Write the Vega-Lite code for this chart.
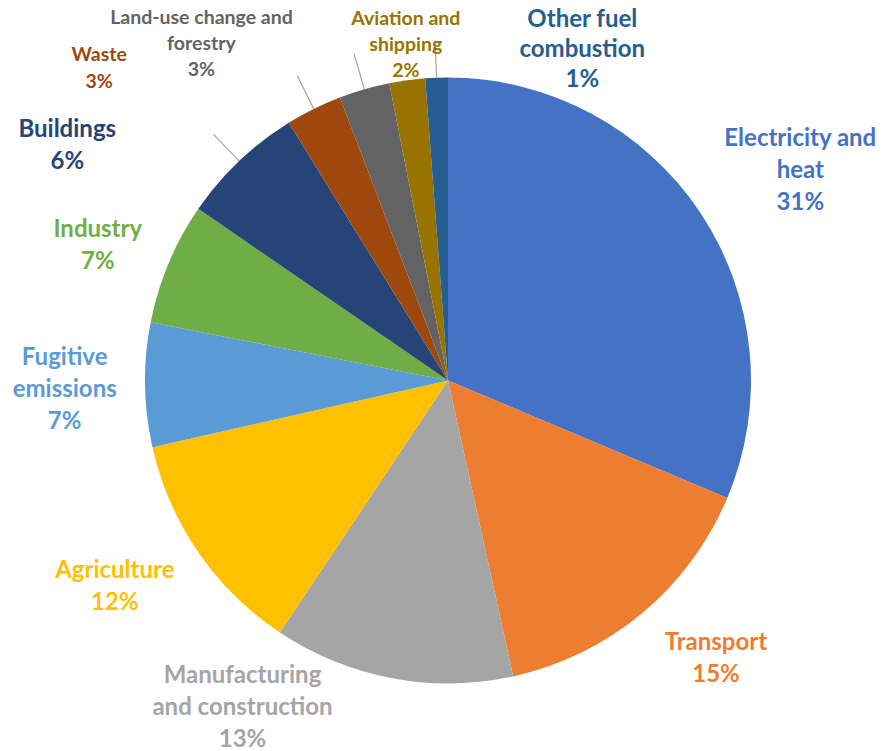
{
  "$schema": "https://vega.github.io/schema/vega-lite/v6.json",
  "autosize": {"type": "none"},
  "width": 868,
  "height": 741,
  "padding": {"left": 14, "top": 10, "right": 0, "bottom": 0},
  "background": "white",
  "config": {
    "view": {"stroke": null},
    "text": {"font": "Lato", "fontWeight": "bold", "fontSize": 24, "lineBreak": "\n", "lineHeight": 32, "align": "center", "baseline": "middle"}
  },
  "data": {
    "values": [
      {"idx": 1, "cat": "Electricity and heat", "value": 31.3, "label": "Electricity and\nheat\n31%"},
      {"idx": 2, "cat": "Transport", "value": 15.2, "label": "Transport\n15%"},
      {"idx": 3, "cat": "Manufacturing and construction", "value": 12.8, "label": "Manufacturing\nand construction\n13%"},
      {"idx": 4, "cat": "Agriculture", "value": 12.1, "label": "Agriculture\n12%"},
      {"idx": 5, "cat": "Fugitive emissions", "value": 6.6, "label": "Fugitive\nemissions\n7%"},
      {"idx": 6, "cat": "Industry", "value": 6.5, "label": "Industry\n7%"},
      {"idx": 7, "cat": "Buildings", "value": 6.6, "label": "Buildings\n6%"},
      {"idx": 8, "cat": "Waste", "value": 3.0, "label": "Waste\n3%"},
      {"idx": 9, "cat": "Land-use change and forestry", "value": 2.7, "label": "Land-use change and\nforestry\n3%"},
      {"idx": 10, "cat": "Aviation and shipping", "value": 1.9, "label": "Aviation and\nshipping\n2%"},
      {"idx": 11, "cat": "Other fuel combustion", "value": 1.2, "label": "Other fuel\ncombustion\n1%"}
    ]
  },
  "encoding": {
    "theta": {"field": "value", "type": "quantitative", "stack": true},
    "order": {"field": "idx", "type": "quantitative"},
    "color": {
      "field": "cat",
      "type": "nominal",
      "legend": null,
      "scale": {
        "domain": ["Electricity and heat", "Transport", "Manufacturing and construction", "Agriculture", "Fugitive emissions", "Industry", "Buildings", "Waste", "Land-use change and forestry", "Aviation and shipping", "Other fuel combustion"],
        "range": ["#4472C4", "#ED7D31", "#A5A5A5", "#FFC000", "#5B9BD5", "#70AD47", "#264478", "#9E480E", "#636363", "#997300", "#255E91"]
      }
    }
  },
  "layer": [
    {"mark": {"type": "arc", "radius": 303}},
    {
      "mark": {"type": "arc", "radius": 340, "radius2": 303, "padAngle": 1, "strokeWidth": 1.2},
      "encoding": {
        "color": {"value": "transparent"},
        "stroke": {"condition": {"test": "indexof(['Buildings','Waste','Land-use change and forestry','Other fuel combustion'], datum.cat) >= 0", "value": "#A6A6A6"}, "value": "transparent"}
      }
    },
    {"mark": {"type": "text", "radius": 427, "thetaOffset": -0.014}, "encoding": {"text": {"condition": {"test": "datum.cat === 'Electricity and heat'", "field": "label"}, "value": ""}}},
    {"mark": {"type": "text", "radius": 375, "thetaOffset": -0.101}, "encoding": {"text": {"condition": {"test": "datum.cat === 'Transport'", "field": "label"}, "value": ""}}},
    {"mark": {"type": "text", "radius": 360, "thetaOffset": 0.422}, "encoding": {"text": {"condition": {"test": "datum.cat === 'Manufacturing and construction'", "field": "label"}, "value": ""}}},
    {"mark": {"type": "text", "radius": 384, "thetaOffset": 0.082}, "encoding": {"text": {"condition": {"test": "datum.cat === 'Agriculture'", "field": "label"}, "value": ""}}},
    {"mark": {"type": "text", "radius": 384, "thetaOffset": 0.073}, "encoding": {"text": {"condition": {"test": "datum.cat === 'Fugitive emissions'", "field": "label"}, "value": ""}}},
    {"mark": {"type": "text", "radius": 381, "thetaOffset": 0.007}, "encoding": {"text": {"condition": {"test": "datum.cat === 'Industry'", "field": "label"}, "value": ""}}},
    {"mark": {"type": "text", "radius": 456, "thetaOffset": -0.227}, "encoding": {"text": {"condition": {"test": "datum.cat === 'Buildings'", "field": "label"}, "value": ""}}},
    {"mark": {"type": "text", "radius": 477, "thetaOffset": -0.361, "fontSize": 19.5, "lineHeight": 27}, "encoding": {"text": {"condition": {"test": "datum.cat === 'Waste'", "field": "label"}, "value": ""}}},
    {"mark": {"type": "text", "radius": 438, "thetaOffset": -0.318, "fontSize": 19.5, "lineHeight": 26}, "encoding": {"text": {"condition": {"test": "datum.cat === 'Land-use change and forestry'", "field": "label"}, "value": ""}}},
    {"mark": {"type": "text", "radius": 364, "thetaOffset": 0.019, "fontSize": 19.5, "lineHeight": 26}, "encoding": {"text": {"condition": {"test": "datum.cat === 'Aviation and shipping'", "field": "label"}, "value": ""}}},
    {"mark": {"type": "text", "radius": 385, "thetaOffset": 0.394, "lineHeight": 30}, "encoding": {"text": {"condition": {"test": "datum.cat === 'Other fuel combustion'", "field": "label"}, "value": ""}}}
  ]
}
